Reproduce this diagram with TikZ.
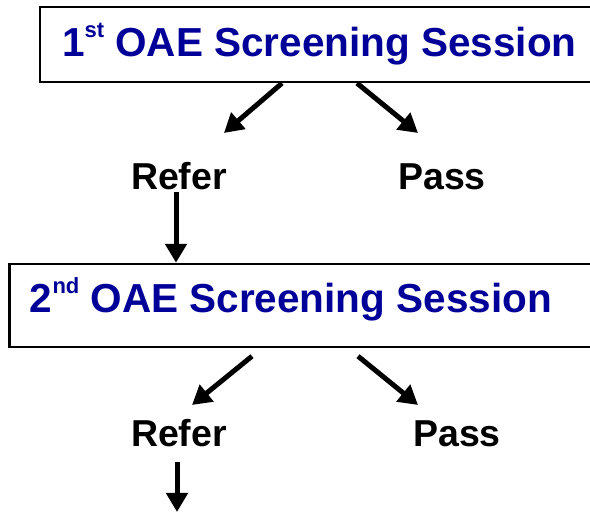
\documentclass[tikz,border=0pt]{standalone}
\usepackage{fontspec}
\setmainfont{Liberation Sans}
\usetikzlibrary{arrows.meta,positioning}
\definecolor{oaeblue}{RGB}{0,0,153}
\newcommand{\ordsup}[1]{\raisebox{19pt}{\fontsize{22}{22}\selectfont #1}}
\tikzset{
  session/.style={draw, line width=2.4pt, text=oaeblue,
    font=\fontsize{40.5}{40.5}\selectfont\bfseries, inner ysep=0pt, text depth=9pt},
  outcome/.style={font=\fontsize{37.5}{37.5}\selectfont\bfseries, anchor=base},
  flow/.style={-{Triangle[length=19pt,width=21pt]}, line width=5pt},
}

\begin{document}
\begin{tikzpicture}[x=1pt,y=1pt]
    \useasboundingbox (0,0) rectangle (590,513);
    \node[session,minimum height=75pt,text height=34pt,inner xsep=22pt] (s_1) at (316,468.5)
        {\makebox[508pt][l]{1\ordsup{st} OAE Screening Session}};
    \node[outcome] (refer_1) at (179,323) {Refer};
    \node[outcome] (pass_1) at (442,323) {Pass};
    \node[session,minimum height=83pt,text height=24pt,inner xsep=20.5pt] (s_2) at (300.75,207.5)
        {\makebox[541.5pt][l]{2\ordsup{nd} OAE Screening Session}};
    \node[outcome] (refer_2) at (179,66) {Refer};
    \node[outcome] (pass_2) at (457,66) {Pass};
    \coordinate (next) at (177,1);
    \draw[flow] ([xshift=-34pt]s_1.south) -- ([shift={(45pt,57pt)}]refer_1.base);
    \draw[flow] ([xshift=41pt]s_1.south) -- ([shift={(-24pt,57pt)}]pass_1.base);
    \draw[flow] ([shift={(-3pt,-2pt)}]refer_1.base) -- ([xshift=-124.75pt]s_2.north);
    \draw[flow] ([shift={(-48.75pt,-8pt)}]s_2.south) -- ([shift={(13pt,42pt)}]refer_2.base);
    \draw[flow] ([shift={(57.25pt,-8pt)}]s_2.south) -- ([shift={(-39pt,42pt)}]pass_2.base);
    \draw[flow] ([shift={(-2pt,-15pt)}]refer_2.base) -- (next);
\end{tikzpicture}
\end{document}
